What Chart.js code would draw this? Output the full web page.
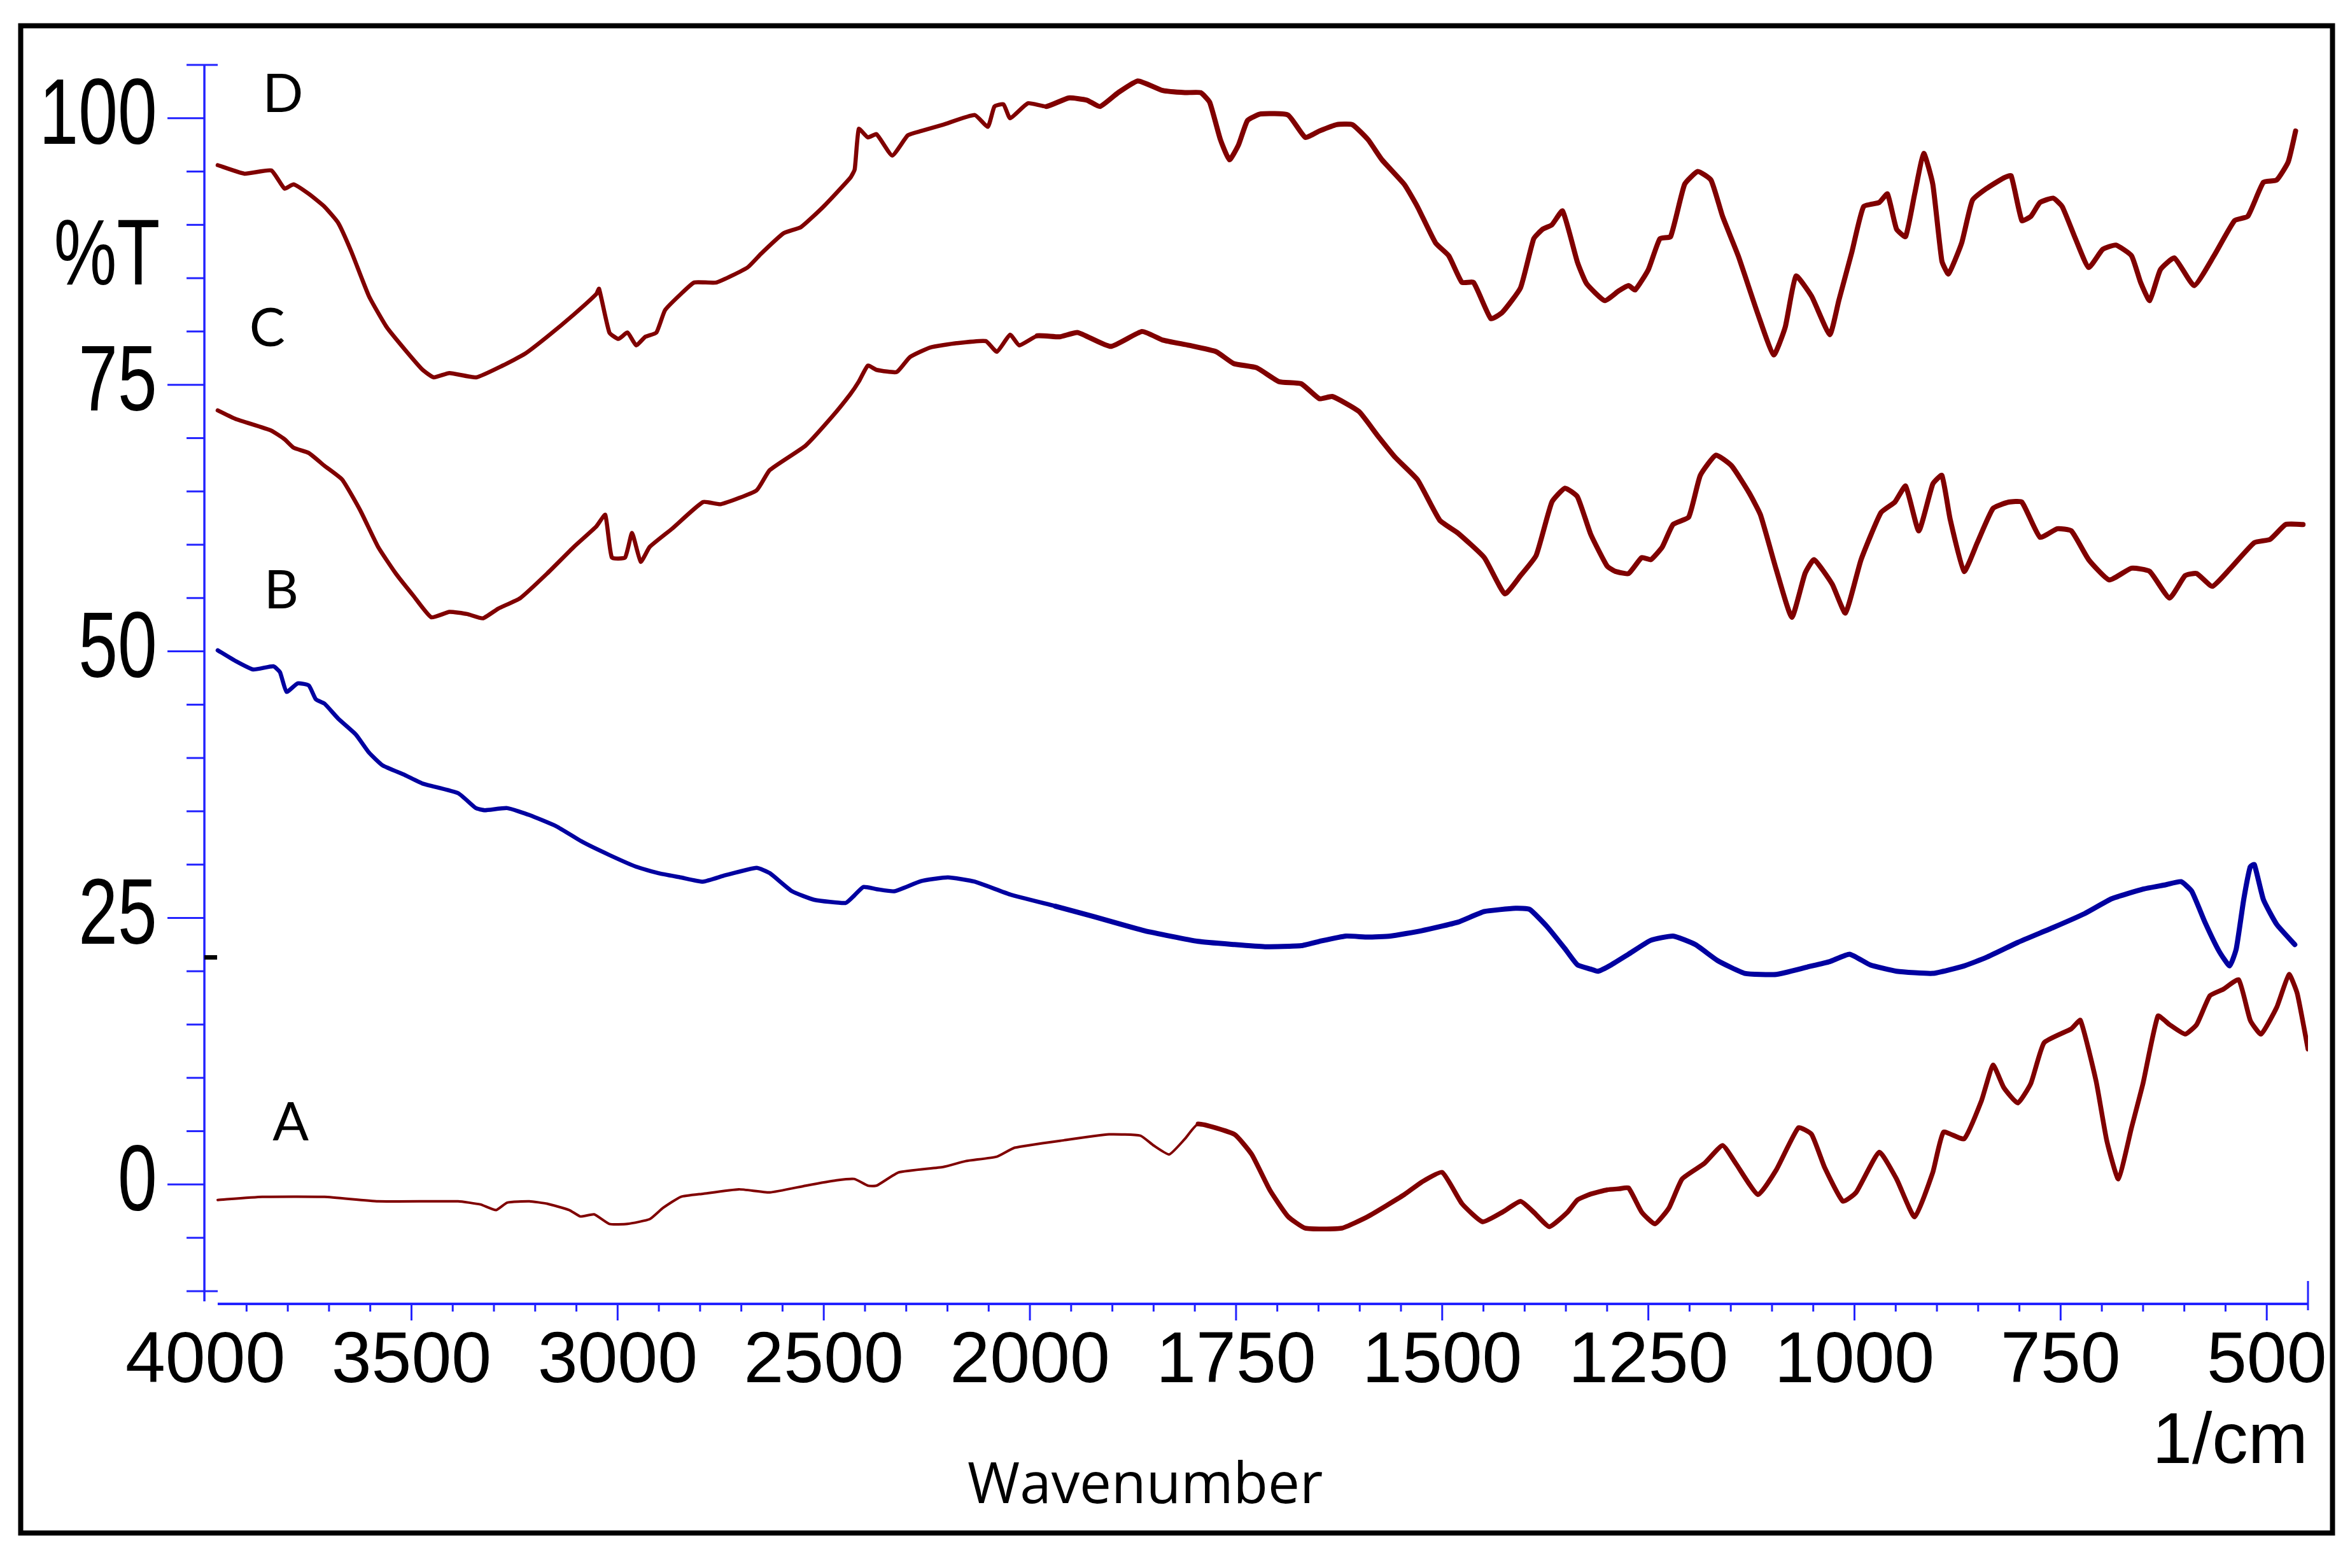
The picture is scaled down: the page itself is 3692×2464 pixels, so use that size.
<!DOCTYPE html>
<html>
<head>
<meta charset="utf-8">
<script src="https://cdn.jsdelivr.net/npm/chart.js@4.4.1/dist/chart.umd.min.js"></script>
<style>
  html, body { margin: 0; padding: 0; background: #fff; }
  #wrap { width: 3692px; height: 2464px; position: relative; }
</style>
</head>
<body>
<div id="wrap"><canvas id="c" width="3692" height="2464" style="width:3692px;height:2464px"></canvas></div>
<script>
// ---------------- DATA (wavenumber in 1/cm, %T) ----------------
const dWave = [3970,3905,3840,3808,3786,3749,3711,3678,3646,3603,3560,3516,3473,3446,3408,3343,3279,3225,3171,3106,3052,3045,3020,2998,2976,2955,2933,2906,2885,2847,2814,2760,2685,2652,2598,2555,2501,2436,2425,2415,2393,2372,2334,2296,2264,2210,2134,2102,2086,2064,2048,2005,1980,1953,1931,1915,1893,1869,1839,1812,1793,1782,1769,1758,1747,1736,1720,1687,1666,1649,1628,1609,1590,1573,1546,1530,1508,1492,1476,1462,1441,1427,1405,1389,1378,1367,1354,1336,1325,1303,1286,1274,1266,1250,1236,1223,1206,1190,1174,1160,1141,1117,1098,1084,1071,1052,1030,1019,1003,989,970,960,949,938,927,916,905,894,886,870,857,840,819,810,797,786,775,759,748,732,716,699,683,664,653,642,629,612,588,564,539,523,504,488,474,465];
const dT = [95.6,94.8,95.1,93.4,93.8,92.9,91.7,90.2,87.5,83.3,80.4,78.3,76.4,75.7,76.1,75.7,76.8,77.9,79.5,81.6,83.5,84.0,79.9,79.3,79.9,78.7,79.5,79.9,82.0,83.5,84.6,84.6,86.0,87.3,89.2,89.8,91.7,94.4,95.2,99.0,98.2,98.5,96.5,98.4,98.8,99.4,100.3,99.2,101.1,101.3,100.0,101.4,101.1,101.9,101.7,101.1,102.4,103.5,102.6,102.4,102.4,101.5,98.0,96.1,97.5,99.8,100.4,100.3,98.2,98.8,99.4,99.4,98.0,96.1,93.8,91.7,88.3,87.1,84.6,84.6,81.2,81.8,84.1,88.7,89.6,90.0,91.3,86.5,84.5,82.9,83.8,84.3,83.9,85.8,88.7,88.9,93.8,95.0,94.2,90.8,87.1,81.6,77.8,80.4,85.2,83.3,79.7,82.9,87.5,91.7,92.1,92.9,89.6,88.9,92.9,96.7,93.8,86.6,85.4,88.3,92.3,93.4,94.4,94.6,90.4,90.8,92.1,92.5,91.7,88.7,86.0,87.7,88.1,87.1,84.6,82.9,85.8,86.9,84.3,87.1,90.4,90.8,94.0,94.2,95.9,98.8];

const cWave = [3970,3927,3840,3808,3786,3749,3711,3668,3624,3581,3538,3495,3452,3408,3365,3327,3290,3236,3171,3106,3052,3030,3014,2982,2965,2944,2922,2868,2793,2750,2663,2631,2544,2480,2436,2415,2393,2372,2323,2291,2242,2178,2107,2080,2048,2026,1991,1964,1942,1902,1864,1839,1807,1774,1753,1725,1698,1671,1649,1633,1601,1579,1557,1530,1503,1481,1449,1424,1405,1386,1367,1351,1336,1320,1300,1290,1274,1258,1247,1233,1220,1201,1187,1168,1149,1128,1114,1095,1076,1060,1049,1027,1011,992,968,951,938,922,905,894,884,867,851,832,813,797,775,754,737,716,691,664,642,618,599,585,566,545,515,496,477,456];
const cT = [72.6,71.8,70.7,69.9,69.1,68.6,67.4,66.1,63.2,59.8,57.3,55.2,53.2,53.7,53.5,53.1,54.0,55.0,57.3,59.8,61.7,62.8,58.8,58.8,61.1,58.4,59.8,61.5,64.0,63.8,65.1,67.0,69.3,72.0,74.1,75.3,76.8,76.4,76.2,77.6,78.5,78.9,79.1,78.1,79.7,78.7,79.6,79.5,79.9,78.6,80.0,79.2,78.7,78.1,77.0,76.6,75.3,75.1,73.7,73.9,72.5,70.3,68.2,66.1,62.3,61.1,58.8,55.4,57.1,59.0,64.0,65.3,64.5,61.0,58.0,57.5,57.3,58.8,58.6,59.8,61.9,62.6,66.5,68.4,67.4,64.9,62.8,57.7,53.2,57.3,58.6,56.3,53.6,58.6,63.0,64.0,65.5,61.3,65.7,66.5,62.4,57.5,60.2,63.4,64.0,64.0,60.7,61.5,61.3,58.6,56.7,57.8,57.5,55.0,57.1,57.3,56.1,57.7,60.2,60.5,61.9,61.9];

const bWave = [3970,3927,3884,3835,3819,3803,3776,3749,3732,3711,3678,3635,3603,3570,3516,3473,3387,3344,3322,3268,3214,3149,3084,3020,2955,2901,2847,2793,2739,2663,2631,2577,2523,2447,2426,2404,2372,2329,2264,2199,2134,2048,1969,1926,1861,1796,1752,1715,1671,1649,1617,1590,1563,1525,1481,1449,1411,1394,1373,1351,1336,1320,1311,1295,1274,1247,1220,1193,1166,1133,1095,1057,1030,1006,981,949,905,867,840,802,759,721,688,650,623,604,591,575,558,545,537,528,520,515,504,488,466];
const bT = [50.1,49.1,48.3,48.6,48.05,46.2,47.0,46.8,45.5,45.1,43.7,42.2,40.5,39.3,38.4,37.6,36.7,35.3,35.1,35.3,34.65,33.6,32.1,30.9,29.8,29.2,28.8,28.4,29.0,29.7,29.2,27.5,26.7,26.4,27.1,27.9,27.7,27.5,28.45,28.8,28.4,27.2,26.1,25.2,23.8,22.8,22.5,22.3,22.4,22.8,23.3,23.2,23.3,23.8,24.6,25.6,25.9,25.8,24.2,22.1,20.6,20.2,20.0,20.6,21.6,22.9,23.3,22.5,21.0,19.8,19.7,20.4,20.9,21.6,20.6,20.0,19.8,20.5,21.3,22.7,24.1,25.4,26.8,27.7,28.1,28.4,27.5,24.6,21.9,20.5,22.1,26.7,29.8,30.0,26.7,24.4,22.5];

const aWave = [3970,3862,3711,3581,3387,3333,3295,3268,3214,3171,3117,3090,3057,3020,2976,2922,2890,2847,2793,2706,2631,2544,2469,2426,2393,2372,2318,2210,2156,2080,2037,1958,1904,1866,1850,1831,1812,1796,1752,1731,1709,1687,1666,1622,1590,1546,1525,1500,1476,1451,1427,1405,1389,1370,1348,1336,1320,1300,1285,1274,1258,1242,1225,1209,1182,1160,1144,1117,1095,1068,1052,1036,1014,998,970,949,927,905,892,867,846,832,819,802,786,770,737,726,707,694,680,664,650,632,618,599,585,569,553,534,520,507,488,473,463,450];
const aT = [-1.45,-1.16,-1.16,-1.58,-1.58,-1.87,-2.4,-1.7,-1.58,-1.8,-2.4,-3.0,-2.8,-3.7,-3.7,-3.25,-2.2,-1.16,-0.87,-0.45,-0.74,-0.11,0.39,0.52,-0.11,-0.11,1.14,1.65,2.19,2.61,3.45,4.16,4.7,4.58,3.66,2.82,4.28,5.67,4.7,2.82,-0.53,-3.0,-4.1,-4.1,-3.0,-0.95,0.22,1.14,-1.8,-3.5,-2.6,-1.58,-2.6,-3.96,-2.6,-1.45,-0.9,-0.5,-0.4,-0.32,-2.6,-3.7,-2.2,0.52,1.98,3.66,1.98,-0.95,1.35,5.33,4.7,1.56,-1.58,-0.74,3.03,0.52,-3.04,1.14,4.91,4.28,7.85,11.2,9.1,7.64,9.5,13.3,14.6,15.4,9.7,4.1,0.52,5.33,9.5,15.8,15.0,14.1,15.0,17.7,18.3,19.2,15.4,14.1,16.6,19.7,17.9,12.7];

// Axis tick labels / ticks
const xLabelTicks = [4000,3500,3000,2500,2000,1750,1500,1250,1000,750,500];
const yLabelTicks = [0,25,50,75,100];
const seriesNames = ['D','C','B','A'];
const seriesLabelAnchors = [[3812,102.4],[3850,80.4],[3816,55.8],[3793,5.9]]; // [wavenumber, %T] where each letter sits
const yMarkerValue = 21.3; // small black mark on the %T axis

// ---------------- split wavenumber scale ----------------
const W_MAX = 4000, W_MIN = 450, W_BREAK = 2000;
function toU(w) { return w >= W_BREAK ? (W_MAX - w) / 2 : (W_MAX - W_BREAK) / 2 + (W_BREAK - w); }
function fromU(u) { const ub = (W_MAX - W_BREAK) / 2; return u <= ub ? W_MAX - 2 * u : W_BREAK - (u - ub); }

class WavenumberScale extends Chart.LinearScale {
  determineDataLimits() { this.min = this.options.min; this.max = this.options.max; }
  buildTicks() { return xLabelTicks.map(v => ({ value: v })); }
  getPixelForValue(v) { return this.getPixelForDecimal(toU(v) / toU(this.min)); }
  getValueForPixel(p) { return fromU(this.getDecimalForPixel(p) * toU(this.min)); }
}
WavenumberScale.id = 'wavenumber';
WavenumberScale.defaults = {};

// linear %T scale whose labels are drawn horizontally condensed (narrow face)
const NARROW = 0.76;
class NarrowLinearScale extends Chart.LinearScale {
  _computeLabelArea() { return undefined; }
  drawLabels(chartArea) {
    const ctx = this.ctx;
    const xr = this.right - this.options.ticks.padding;
    ctx.save();
    ctx.translate(xr, 0); ctx.scale(NARROW, 1); ctx.translate(-xr, 0);
    super.drawLabels(chartArea);
    ctx.restore();
  }
}
NarrowLinearScale.id = 'narrowLinear';
NarrowLinearScale.defaults = {};
Chart.register(WavenumberScale, NarrowLinearScale);

const RED = '#800000', BLUE = '#0000a0', AXIS = '#2222ff';

function mk(label, waves, vals, color, thin, thick, brk) {
  return {
    label,
    data: waves.map((w, i) => ({ x: w, y: vals[i] })),
    borderColor: color,
    borderWidth: thick,
    pointRadius: 0,
    tension: 0.15,
    borderJoinStyle: 'round',
    borderCapStyle: 'round',
    segment: { borderWidth: ctx => (waves[ctx.p0DataIndex] > brk ? thin : thick) }
  };
}

const decor = {
  id: 'decor',
  beforeDraw(chart) {
    const ctx = chart.ctx;
    ctx.save();
    ctx.fillStyle = '#fff';
    ctx.fillRect(0, 0, chart.width, chart.height);
    ctx.restore();
  },
  beforeDatasetsDraw(chart) {
    const ctx = chart.ctx, xs = chart.scales.x, ys = chart.scales.y;
    const ax = chart.chartArea.left - 1.5;
    const ay = chart.chartArea.bottom;
    ctx.save();
    ctx.strokeStyle = AXIS;
    ctx.lineCap = 'butt';
    // y axis line
    ctx.lineWidth = 3.5;
    ctx.beginPath(); ctx.moveTo(ax, ys.getPixelForValue(105)); ctx.lineTo(ax, ay - 4); ctx.stroke();
    // y ticks
    ctx.lineWidth = 3;
    for (let v = -10; v <= 105; v += 5) {
      const py = ys.getPixelForValue(v);
      let x0 = ax - 28, x1 = ax;
      if (yLabelTicks.includes(v)) x0 = ax - 58;
      if (v === 105 || v === -10) x1 = ax + 21;
      ctx.beginPath(); ctx.moveTo(x0, py); ctx.lineTo(x1, py); ctx.stroke();
    }
    // x axis line
    ctx.lineWidth = 4;
    ctx.beginPath(); ctx.moveTo(xs.getPixelForValue(3970), ay); ctx.lineTo(xs.getPixelForValue(W_MIN), ay); ctx.stroke();
    // x ticks
    ctx.lineWidth = 3;
    const minor = [];
    for (let w = 3900; w > W_BREAK; w -= 100) minor.push(w);
    for (let w = W_BREAK; w >= 500; w -= 50) minor.push(w);
    minor.forEach(w => {
      const px = xs.getPixelForValue(w);
      const len = xLabelTicks.includes(w) ? 26 : 12;
      ctx.beginPath(); ctx.moveTo(px, ay); ctx.lineTo(px, ay + len); ctx.stroke();
    });
    const pe = xs.getPixelForValue(W_MIN);
    ctx.beginPath(); ctx.moveTo(pe, ay - 36); ctx.lineTo(pe, ay + 10); ctx.stroke();
    // small black mark
    ctx.strokeStyle = '#000'; ctx.lineWidth = 7;
    const my = ys.getPixelForValue(yMarkerValue);
    ctx.beginPath(); ctx.moveTo(ax, my); ctx.lineTo(ax + 20, my); ctx.stroke();
    ctx.restore();
  },
  afterDraw(chart) {
    const ctx = chart.ctx, xs = chart.scales.x, ys = chart.scales.y;
    ctx.save();
    // frame
    ctx.strokeStyle = '#000'; ctx.lineWidth = 8;
    ctx.strokeRect(32.5, 40.5, 3632, 2368.5);
    // series letters
    ctx.fillStyle = '#000';
    ctx.font = '84px Lato';
    ctx.textAlign = 'center'; ctx.textBaseline = 'alphabetic';
    seriesNames.forEach((n, i) => {
      const [w, v] = seriesLabelAnchors[i];
      ctx.fillText(n, xs.getPixelForValue(w), ys.getPixelForValue(v) + 30);
    });
    // %T (condensed like the tick labels)
    ctx.save();
    ctx.translate(168, 447); ctx.scale(NARROW, 1);
    ctx.font = "146px 'Liberation Sans'";
    ctx.fillText('%T', 0, 0);
    ctx.restore();
    // 1/cm
    ctx.font = "113px 'Liberation Sans'";
    ctx.textAlign = 'right';
    ctx.fillText('1/cm', xs.getPixelForValue(W_MIN), 2299);
    // Wavenumber
    ctx.font = "89px 'Open Sans'";
    ctx.textAlign = 'left';
    ctx.fillText('Wavenumber', 1520, 2362);
    ctx.restore();
  }
};

new Chart(document.getElementById('c'), {
  type: 'line',
  data: {
    datasets: [
      mk('D', dWave, dT, RED, 6.5, 8, 2000),
      mk('C', cWave, cT, RED, 6.5, 8, 2000),
      mk('B', bWave, bT, BLUE, 6.5, 8, 2000),
      mk('A', aWave, aT, RED, 4, 7.5, 1800)
    ]
  },
  options: {
    responsive: false,
    animation: false,
    devicePixelRatio: 1,
    layout: { padding: { left: 0, right: 66, top: 102, bottom: 0 } },
    plugins: { legend: { display: false }, tooltip: { enabled: false }, title: { display: false } },
    elements: { point: { radius: 0 } },
    scales: {
      x: {
        type: 'wavenumber', min: W_MIN, max: W_MAX, position: 'bottom',
        afterFit: s => { s.height = 415; s.paddingLeft = 0; s.paddingRight = 0; },
        grid: { display: false, drawTicks: false }, border: { display: false },
        ticks: { autoSkip: false, maxRotation: 0, minRotation: 0, padding: 24, color: '#000',
                 font: { family: "'Liberation Sans'", size: 113 }, callback: v => String(v) }
      },
      y: {
        type: 'narrowLinear', min: -11.2, max: 105, position: 'left',
        afterBuildTicks: s => { s.ticks = yLabelTicks.map(v => ({ value: v })); },
        afterFit: s => { s.width = 322.6; s.paddingTop = 0; s.paddingBottom = 0; },
        grid: { display: false, drawTicks: false }, border: { display: false },
        ticks: { padding: 76, color: '#000',
                 font: { family: "'Liberation Sans'", size: 146 }, callback: v => String(v) }
      }
    }
  },
  plugins: [decor]
});
</script>
</body>
</html>
